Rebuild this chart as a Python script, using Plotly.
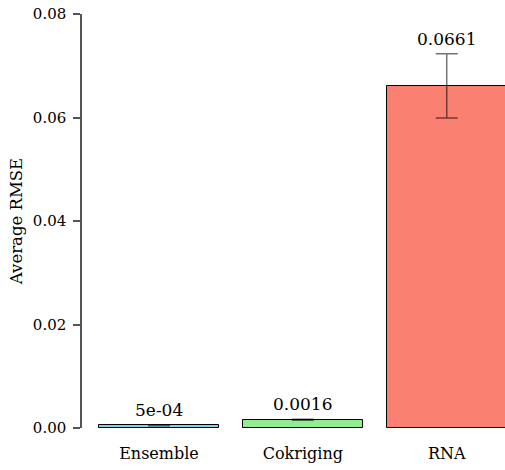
import plotly.graph_objects as go

categories = ["Ensemble", "Cokriging", "RNA"]
values = [0.0005, 0.0016, 0.0661]
errors = [0.00005, 0.00008, 0.0062]
labels = ["5e-04", "0.0016", "0.0661"]
colors = ["#87CEEB", "#90EE90", "#FA8072"]
y_ticks = [0, 0.02, 0.04, 0.06, 0.08]
y_ticklabels = ["0.00", "0.02", "0.04", "0.06", "0.08"]

FONT = "DejaVu Serif, Liberation Serif, serif"

fig = go.Figure()
fig.add_trace(go.Bar(
    x=list(range(len(categories))),
    y=values,
    width=0.83,
    marker=dict(color=colors, line=dict(color="black", width=1)),
    error_y=dict(type="data", array=errors, visible=True,
                 color="rgba(0,0,0,0.55)", thickness=1.5, width=11),
    showlegend=False,
))

for i, (v, e, t) in enumerate(zip(values, errors, labels)):
    fig.add_annotation(x=i, y=v + e, text=t, showarrow=False,
                       yanchor="bottom", yshift=3,
                       font=dict(family=FONT, size=17, color="black"))

fig.update_layout(
    width=505, height=470,
    margin=dict(l=82, r=0, t=14, b=42),
    plot_bgcolor="white", paper_bgcolor="white",
    font=dict(family=FONT, size=16, color="black"),
    bargap=0,
)
fig.update_xaxes(
    range=[-0.535, 2.405],
    tickmode="array", tickvals=list(range(len(categories))), ticktext=categories,
    showline=False, showgrid=False, zeroline=False, ticks="",
    ticklabelstandoff=14,
    tickfont=dict(family=FONT, size=16),
)
fig.update_yaxes(
    range=[0, 0.08],
    tickmode="array", tickvals=y_ticks, ticktext=y_ticklabels,
    showline=True, linecolor="#555555", linewidth=1.5,
    ticks="outside", ticklen=7, tickcolor="#555555", tickwidth=1.5,
    showgrid=False, zeroline=False,
    ticklabelstandoff=4,
    tickfont=dict(family=FONT, size=15),
    title=dict(text="Average RMSE", font=dict(family=FONT, size=16.5), standoff=6),
)

fig.write_html("out.html")
